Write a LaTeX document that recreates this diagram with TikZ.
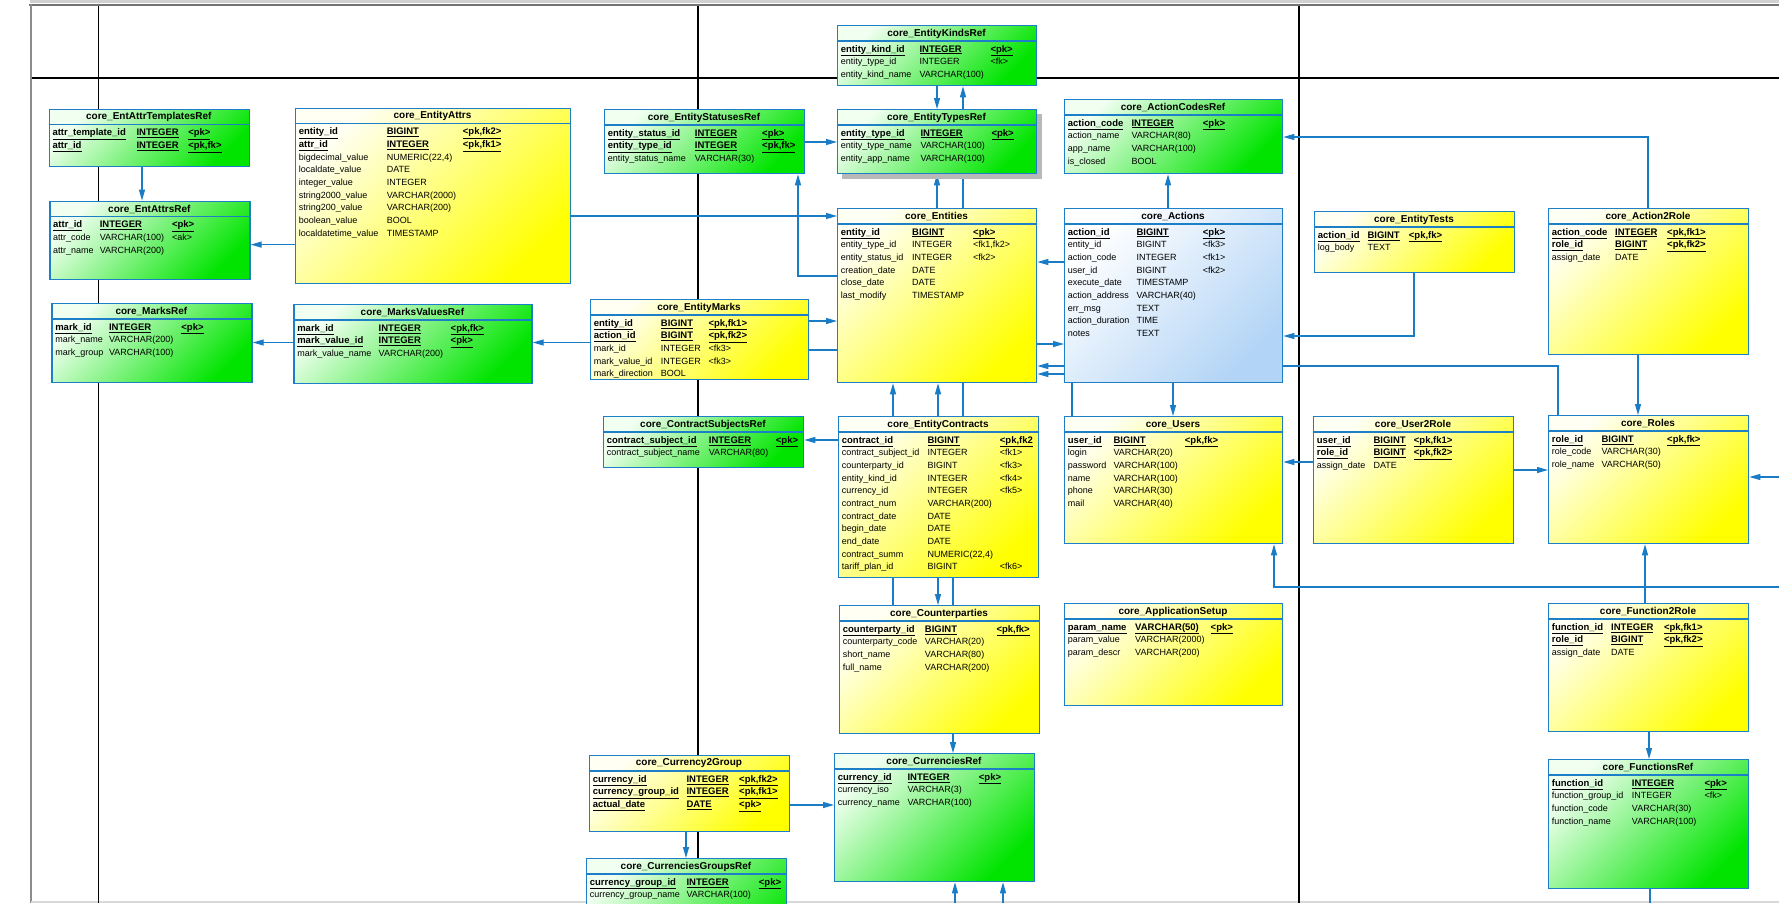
\documentclass[tikz,border=0pt]{standalone}
\usepackage{fontspec}
\setmainfont{Liberation Sans}
\usetikzlibrary{arrows.meta,calc}
\definecolor{bcol}{HTML}{1C7FC8}
\definecolor{ccol}{HTML}{1B7CC6}
\definecolor{ylight}{HTML}{FFFFF4}
\definecolor{ydark}{HTML}{FFFF00}
\definecolor{glight}{HTML}{F0FFF0}
\definecolor{gdark}{HTML}{00E400}
\definecolor{blight}{HTML}{FFFFFF}
\definecolor{bdark}{HTML}{B2D4F6}
\pgfdeclarelayer{back}
\pgfdeclarelayer{conn}
\pgfsetlayers{back,conn,main}
\newcommand\mycfont{\fontsize{9}{10}\selectfont}
\newcommand\myhfont{\fontsize{10}{11}\selectfont\bfseries}
\newcommand\mkcell[2]{\if#1b{\fontsize{9.5}{10}\selectfont\bfseries\underline{#2}}\else#2\fi}
\tikzset{
  tbl/.style={draw=bcol, line width=1.3pt, inner sep=0pt, rectangle},
  yel/.style={top color=ylight, bottom color=ydark, shading angle=45},
  grn/.style={top color=glight, bottom color=gdark, shading angle=45},
  blu/.style={top color=blight, bottom color=bdark, shading angle=45},
  tblc/.style={draw=bcol, line width=1.3pt},
  hdr/.style={font=\myhfont, inner sep=0pt, anchor=center},
  cell/.style={font=\mycfont, inner sep=0pt, anchor=west, text height=7pt, text depth=2pt},
  fk/.style={draw=ccol, line width=1.2pt, -{Triangle[length=11pt,width=6pt]}},
  fkl/.style={draw=ccol, line width=1.2pt},
  gridl/.style={draw=black, line width=1.3pt},
}
\newcommand\mkbox[7]{%
  \node[tbl,#7,minimum width={#5-#3},minimum height={#6-#4},anchor=north west] (#1) at (#3,#4) {};
  \draw[tblc] (#3,{#4+16}) -- (#5,{#4+16});
  \node[hdr] (#1-h) at ({(#3+#5)/2},{#4+8.5}) {#2};
}
\newcommand\mkrows[6]{%
  \foreach \rf/\rn/\rt/\rk [count=\ri] in {#6}{%
    \node[cell] (#1-\ri-n) at ({#2+3.7},{#3+24.7+(\ri-1)*12.65}) {\mkcell{\rf}{\rn}};
    \node[cell] (#1-\ri-t) at ({#2+#4},{#3+24.7+(\ri-1)*12.65}) {\mkcell{\rf}{\rt}};
    \node[cell] (#1-\ri-k) at ({#2+#5},{#3+24.7+(\ri-1)*12.65}) {\mkcell{\rf}{\rk}};
  }%
}
\begin{document}
\begin{tikzpicture}[x=1pt,y=-1pt]
\useasboundingbox (0,0) rectangle (1779,903);

% ---------- tables ----------
\mkbox{TplRef}{core\_EntAttrTemplatesRef}{48.6}{108.6}{249}{166}{grn}
\mkrows{TplRef}{48.6}{108.6}{87.8}{139.5}{b/attr\_template\_id/INTEGER/{<pk>},b/attr\_id/INTEGER/{<pk,fk>}}

\mkbox{AttrsRef}{core\_EntAttrsRef}{49.3}{200.6}{249.4}{279}{grn}
\mkrows{AttrsRef}{49.3}{200.6}{50.3}{122.6}{b/attr\_id/INTEGER/{<pk>},n/attr\_code/VARCHAR(100)/{<ak>},n/attr\_name/VARCHAR(200)/{}}

\mkbox{EAttrs}{core\_EntityAttrs}{295}{107.6}{570}{283}{yel}
\mkrows{EAttrs}{295}{107.6}{91.6}{167.7}{b/entity\_id/BIGINT/{<pk,fk2>},b/attr\_id/INTEGER/{<pk,fk1>},n/bigdecimal\_value/{NUMERIC(22,4)}/{},n/localdate\_value/DATE/{},n/integer\_value/INTEGER/{},n/string2000\_value/VARCHAR(2000)/{},n/string200\_value/VARCHAR(200)/{},n/boolean\_value/BOOL/{},n/localdatetime\_value/TIMESTAMP/{}}

\mkbox{MarksRef}{core\_MarksRef}{51.4}{303}{251.4}{382}{grn}
\mkrows{MarksRef}{51.4}{303}{57.5}{129.8}{b/mark\_id/INTEGER/{<pk>},n/mark\_name/VARCHAR(200)/{},n/mark\_group/VARCHAR(100)/{}}

\mkbox{MValRef}{core\_MarksValuesRef}{293.4}{304}{531.4}{383}{grn}
\mkrows{MValRef}{293.4}{304}{85.1}{157.1}{b/mark\_id/INTEGER/{<pk,fk>},b/mark\_value\_id/INTEGER/{<pk>},n/mark\_value\_name/VARCHAR(200)/{}}

\mkbox{KindsRef}{core\_EntityKindsRef}{837}{25}{1036}{85}{grn}
\mkrows{KindsRef}{837}{25}{82.3}{153.3}{b/entity\_kind\_id/INTEGER/{<pk>},n/entity\_type\_id/INTEGER/{<fk>},n/entity\_kind\_name/VARCHAR(100)/{}}

\mkbox{StatRef}{core\_EntityStatusesRef}{604}{109}{804}{173}{grn}
\mkrows{StatRef}{604}{109}{90.7}{158}{b/entity\_status\_id/INTEGER/{<pk>},b/entity\_type\_id/INTEGER/{<pk,fk>},n/entity\_status\_name/VARCHAR(30)/{}}

\fill[black!28] (842,114) rectangle (1042,179);
\mkbox{TypesRef}{core\_EntityTypesRef}{837}{109}{1036}{173}{grn}
\mkrows{TypesRef}{837}{109}{83.3}{154.3}{b/entity\_type\_id/INTEGER/{<pk>},n/entity\_type\_name/VARCHAR(100)/{},n/entity\_app\_name/VARCHAR(100)/{}}

\mkbox{Ent}{core\_Entities}{837}{208}{1036}{382}{yel}
\mkrows{Ent}{837}{208}{75}{136}{b/entity\_id/BIGINT/{<pk>},n/entity\_type\_id/INTEGER/{<fk1,fk2>},n/entity\_status\_id/INTEGER/{<fk2>},n/creation\_date/DATE/{},n/close\_date/DATE/{},n/last\_modify/TIMESTAMP/{}}

\mkbox{EMarks}{core\_EntityMarks}{590}{299}{808}{379}{yel}
\mkrows{EMarks}{590}{299}{70.7}{118.3}{b/entity\_id/BIGINT/{<pk,fk1>},b/action\_id/BIGINT/{<pk,fk2>},n/mark\_id/INTEGER/{<fk3>},n/mark\_value\_id/INTEGER/{<fk3>},n/mark\_direction/BOOL/{}}

\mkbox{ACodes}{core\_ActionCodesRef}{1064}{99}{1282}{173}{grn}
\mkrows{ACodes}{1064}{99}{67.3}{138.7}{b/action\_code/INTEGER/{<pk>},n/action\_name/VARCHAR(80)/{},n/app\_name/VARCHAR(100)/{},n/is\_closed/BOOL/{}}

\mkbox{Actions}{core\_Actions}{1064}{208}{1282}{382}{blu}
\mkrows{Actions}{1064}{208}{72.3}{138.7}{b/action\_id/BIGINT/{<pk>},n/entity\_id/BIGINT/{<fk3>},n/action\_code/INTEGER/{<fk1>},n/user\_id/BIGINT/{<fk2>},n/execute\_date/TIMESTAMP/{},n/action\_address/VARCHAR(40)/{},n/err\_msg/TEXT/{},n/action\_duration/TIME/{},n/notes/TEXT/{}}

\mkbox{ETests}{core\_EntityTests}{1314}{211}{1514}{272}{yel}
\mkrows{ETests}{1314}{211}{53.3}{94.7}{b/action\_id/BIGINT/{<pk,fk>},n/log\_body/TEXT/{}}

\mkbox{A2R}{core\_Action2Role}{1548}{208}{1748}{354}{yel}
\mkrows{A2R}{1548}{208}{67}{119}{b/action\_code/INTEGER/{<pk,fk1>},b/role\_id/BIGINT/{<pk,fk2>},n/assign\_date/DATE/{}}

\mkbox{CSubj}{core\_ContractSubjectsRef}{603}{416}{803}{467}{grn}
\mkrows{CSubj}{603}{416}{105.7}{172.7}{b/contract\_subject\_id/INTEGER/{<pk>},n/contract\_subject\_name/VARCHAR(80)/{}}

\mkbox{EContr}{core\_EntityContracts}{838}{416}{1038}{577}{yel}
\mkrows{EContr}{838}{416}{89.3}{161.7}{b/contract\_id/BIGINT/{<pk,fk2},n/contract\_subject\_id/INTEGER/{<fk1>},n/counterparty\_id/BIGINT/{<fk3>},n/entity\_kind\_id/INTEGER/{<fk4>},n/currency\_id/INTEGER/{<fk5>},n/contract\_num/VARCHAR(200)/{},n/contract\_date/DATE/{},n/begin\_date/DATE/{},n/end\_date/DATE/{},n/contract\_summ/{NUMERIC(22,4)}/{},n/tariff\_plan\_id/BIGINT/{<fk6>}}

\mkbox{Users}{core\_Users}{1064}{416}{1282}{543}{yel}
\mkrows{Users}{1064}{416}{49.3}{120.7}{b/user\_id/BIGINT/{<pk,fk>},n/login/VARCHAR(20)/{},n/password/VARCHAR(100)/{},n/name/VARCHAR(100)/{},n/phone/VARCHAR(30)/{},n/mail/VARCHAR(40)/{}}

\mkbox{U2R}{core\_User2Role}{1313}{416}{1513}{543}{yel}
\mkrows{U2R}{1313}{416}{60.3}{100.7}{b/user\_id/BIGINT/{<pk,fk1>},b/role\_id/BIGINT/{<pk,fk2>},n/assign\_date/DATE/{}}

\mkbox{Roles}{core\_Roles}{1548}{415}{1748}{543}{yel}
\mkrows{Roles}{1548}{415}{53.3}{119}{b/role\_id/BIGINT/{<pk,fk>},n/role\_code/VARCHAR(30)/{},n/role\_name/VARCHAR(50)/{}}

\mkbox{Cpty}{core\_Counterparties}{839}{605}{1039}{733}{yel}
\mkrows{Cpty}{839}{605}{85.7}{157.3}{b/counterparty\_id/BIGINT/{<pk,fk>},n/counterparty\_code/VARCHAR(20)/{},n/short\_name/VARCHAR(80)/{},n/full\_name/VARCHAR(200)/{}}

\mkbox{AppSet}{core\_ApplicationSetup}{1064}{603}{1282}{705}{yel}
\mkrows{AppSet}{1064}{603}{71}{146.5}{b/param\_name/VARCHAR(50)/{<pk>},n/param\_value/VARCHAR(2000)/{},n/param\_descr/VARCHAR(200)/{}}

\mkbox{F2R}{core\_Function2Role}{1548}{603}{1748}{731}{yel}
\mkrows{F2R}{1548}{603}{63}{115.8}{b/function\_id/INTEGER/{<pk,fk1>},b/role\_id/BIGINT/{<pk,fk2>},n/assign\_date/DATE/{}}

\mkbox{FuncRef}{core\_FunctionsRef}{1548}{759}{1748}{888}{grn}
\mkrows{FuncRef}{1548}{759}{83.7}{156.4}{b/function\_id/INTEGER/{<pk>},n/function\_group\_id/INTEGER/{<fk>},n/function\_code/VARCHAR(30)/{},n/function\_name/VARCHAR(100)/{}}

\mkbox{CurRef}{core\_CurrenciesRef}{834}{753}{1034}{881}{grn}
\mkrows{CurRef}{834}{753}{73.3}{144.7}{b/currency\_id/INTEGER/{<pk>},n/currency\_iso/VARCHAR(3)/{},n/currency\_name/VARCHAR(100)/{}}

\mkbox{C2G}{core\_Currency2Group}{589}{755}{789}{831}{yel}
\mkrows{C2G}{589}{755}{97.3}{150}{b/currency\_id/INTEGER/{<pk,fk2>},b/currency\_group\_id/INTEGER/{<pk,fk1>},b/actual\_date/DATE/{<pk>}}

\mkbox{CGrp}{core\_CurrenciesGroupsRef}{586}{858}{786}{960}{grn}
\mkrows{CGrp}{586}{858}{100.3}{172.7}{b/currency\_group\_id/INTEGER/{<pk>},n/currency\_group\_name/VARCHAR(100)/{}}

% ---------- frame and grid ----------
\begin{pgfonlayer}{back}
  \fill[white] (0,0) rectangle (1779,903);
  \fill[black!18] (30,0) rectangle (1779,3);
  \draw[black!55, line width=2pt] (29,5) -- (1779,5);
  \draw[black!45, line width=1.5pt] (31,4) -- (31,903);
  \draw[black!15, line width=2pt] (31,902) -- (1779,902);
  \draw[gridl] (98.5,6) -- (98.5,903);
  \draw[gridl] (698,6) -- (698,903);
  \draw[gridl] (1299,6) -- (1299,903);
  \draw[gridl] (32,78) -- (1779,78);
\end{pgfonlayer}

% ---------- connectors ----------
\begin{pgfonlayer}{conn}
  \coordinate (offR) at (1779,477);
  \coordinate (offU) at (1779,587);
  \coordinate (offF) at (1650,903);
  \coordinate (offC1) at (955,903);
  \coordinate (offC2) at (1003,903);
  \draw[fk] (142,0 |- TplRef.south) -- (142,0 |- AttrsRef.north);
  \draw[fk] (EAttrs.west |- 0,244.6) -- (AttrsRef.east |- 0,244.6);
  \draw[fk] (EAttrs.east |- 0,216) -- (Ent.west |- 0,216);
  \draw[fk] (MValRef.west |- 0,342.5) -- (MarksRef.east |- 0,342.5);
  \draw[fk] (EMarks.west |- 0,342.5) -- (MValRef.east |- 0,342.5);
  \draw[fk] (937,0 |- KindsRef.south) -- (937,0 |- TypesRef.north);
  \draw[fk] (963,0 |- EContr.north) -- (963,0 |- KindsRef.south);
  \draw[fk] (StatRef.east |- 0,142) -- (TypesRef.west |- 0,142);
  \draw[fk] (Ent.west |- 0,276) -- (798,276) -- (798,0 |- StatRef.south);
  \draw[fk] (937,0 |- Ent.north) -- (937,0 |- TypesRef.south);
  \draw[fk] (EMarks.east |- 0,321) -- (Ent.west |- 0,321);
  \draw[fk] (EMarks.east |- 0,350) -- (900,350) -- (900,344) -- (Actions.west |- 0,344);
  \draw[fk] (Actions.west |- 0,262) -- (Ent.east |- 0,262);
  \draw[fk] (1558,0 |- Roles.north) -- (1558,366) -- (Ent.east |- 0,366);
  \draw[fk] (1072,0 |- Users.north) -- (1072,374) -- (Ent.east |- 0,374);
  \draw[fk] (1173,0 |- Actions.south) -- (1173,0 |- Users.north);
  \draw[fk] (1168,0 |- Actions.north) -- (1168,0 |- ACodes.south);
  \draw[fk] (1648,0 |- A2R.north) -- (1648,137) -- (ACodes.east |- 0,137);
  \draw[fk] (1414,0 |- ETests.south) -- (1414,336) -- (Actions.east |- 0,336);
  \draw[fk] (1638,0 |- A2R.south) -- (1638,0 |- Roles.north);
  \draw[fk] (U2R.west |- 0,462) -- (Users.east |- 0,462);
  \draw[fk] (U2R.east |- 0,470) -- (Roles.west |- 0,470);
  \draw[fk] (offR) -- (Roles.east |- offR);
  \draw[fk] (offU) -- (1274,587) -- (1274,0 |- Users.south);
  \draw[fk] (1645,0 |- F2R.north) -- (1645,0 |- Roles.south);
  \draw[fk] (1649,0 |- F2R.south) -- (1649,0 |- FuncRef.north);
  \draw[fkl] (1650,0 |- FuncRef.south) -- (offF);
  \draw[fk] (EContr.west |- 0,440) -- (CSubj.east |- 0,440);
  \draw[fk] (938,0 |- EContr.north) -- (938,0 |- Ent.south);
  \draw[fk] (893,0 |- Cpty.north) -- (893,0 |- Ent.south);
  \draw[fk] (938,0 |- EContr.south) -- (938,0 |- Cpty.north);
  \draw[fk] (953,0 |- EContr.south) -- (953,0 |- CurRef.north);
  \draw[fk] (C2G.east |- 0,805) -- (CurRef.west |- 0,805);
  \draw[fk] (686,0 |- C2G.south) -- (686,0 |- CGrp.north);
  \draw[fk] (offC1) -- (955,0 |- CurRef.south);
  \draw[fk] (offC2) -- (1003,0 |- CurRef.south);
\end{pgfonlayer}
\end{tikzpicture}
\end{document}
